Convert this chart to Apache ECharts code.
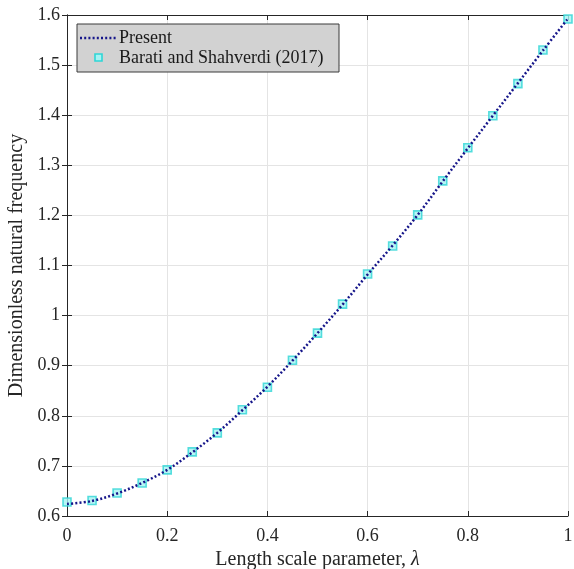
<!DOCTYPE html>
<html>
<head>
<meta charset="utf-8">
<script src="https://cdn.jsdelivr.net/npm/echarts@6/dist/echarts.min.js"></script>
<style>
  html, body { margin: 0; padding: 0; background: #fff; }
  #chart { width: 574px; height: 569px; }
</style>
</head>
<body>
<div id="chart"></div>
<script>
// Length scale parameter values
const lambdaValues = [0, 0.05, 0.1, 0.15, 0.2, 0.25, 0.3, 0.35, 0.4, 0.45, 0.5,
                      0.55, 0.6, 0.65, 0.7, 0.75, 0.8, 0.85, 0.9, 0.95, 1.0];
// Present solution (dimensionless natural frequency)
const presentValues = [0.624, 0.630, 0.645, 0.666, 0.692, 0.727, 0.766, 0.811, 0.858, 0.910, 0.965,
                       1.022, 1.082, 1.140, 1.201, 1.268, 1.334, 1.399, 1.464, 1.529, 1.593];
// Barati and Shahverdi (2017)
const baratiValues = [0.628, 0.631, 0.646, 0.666, 0.692, 0.728, 0.766, 0.812, 0.857, 0.911, 0.965,
                      1.023, 1.083, 1.139, 1.201, 1.269, 1.335, 1.399, 1.463, 1.530, 1.592];

const seriesNames = ['Present', 'Barati and Shahverdi (2017)'];

const serif = '"Liberation Serif", "Times New Roman", serif';
const ink = '#262626';
const lineColor = '#16168a';
const markerFill = '#a6f3f3';
const markerEdge = '#2fd6d6';

const chart = echarts.init(document.getElementById('chart'));
const pair = (xs, ys) => xs.map((x, i) => [x, ys[i]]);
const fmt = v => String(+v.toFixed(1));

const boxAxis = {
  axisLabel: { show: false },
  splitLine: { show: false },
  axisLine: { show: true, lineStyle: { color: ink, width: 1 } },
  axisTick: { show: true, inside: true, length: 5, lineStyle: { color: ink } }
};

// legend drawn as a framed box in the upper-left corner of the plot
const LX = 77, LY = 24, LW = 262, LH = 48;
const legendGraphics = [
  { type: 'rect', shape: { x: LX, y: LY, width: LW, height: LH },
    style: { fill: '#d2d2d2', stroke: '#3a3a3a', lineWidth: 1 }, z: 10 },
  { type: 'line', shape: { x1: LX + 3, y1: LY + 14, x2: LX + 40, y2: LY + 14 },
    style: { stroke: lineColor, lineWidth: 2.5, lineDash: [2, 2.2] }, z: 11 },
  { type: 'text', x: LX + 42, y: LY + 14,
    style: { text: seriesNames[0], font: '18px ' + serif, fill: '#1a1a1a', textVerticalAlign: 'middle', verticalAlign: 'middle' }, z: 11 },
  { type: 'rect', shape: { x: LX + 18, y: LY + 30, width: 7, height: 7 },
    style: { fill: markerFill, stroke: markerEdge, lineWidth: 1.6 }, z: 11 },
  { type: 'text', x: LX + 42, y: LY + 34,
    style: { text: seriesNames[1], font: '18px ' + serif, fill: '#1a1a1a', textVerticalAlign: 'middle', verticalAlign: 'middle' }, z: 11 }
];

chart.setOption({
  backgroundColor: '#ffffff',
  animation: false,
  grid: { left: 67, right: 6, top: 15, bottom: 53, containLabel: false, outerBoundsMode: 'none' },
  xAxis: [{
    type: 'value', min: 0, max: 1, interval: 0.2,
    name: '{n|Length scale parameter, }{l|λ}',
    nameLocation: 'middle', nameGap: 25,
    nameTextStyle: {
      rich: {
        n: { fontFamily: serif, fontSize: 20, color: ink },
        l: { fontFamily: serif, fontSize: 20, fontStyle: 'italic', color: ink }
      }
    },
    axisLine: { show: true, lineStyle: { color: ink, width: 1 } },
    axisTick: { show: true, inside: true, length: 5, lineStyle: { color: ink } },
    axisLabel: { fontFamily: serif, fontSize: 18, color: ink, margin: 11, formatter: fmt },
    splitLine: { show: true, lineStyle: { color: '#e4e4e4', width: 1 } }
  }, Object.assign({ type: 'value', min: 0, max: 1, interval: 0.2, position: 'top' }, boxAxis)],
  yAxis: [{
    type: 'value', min: 0.6, max: 1.6, interval: 0.1,
    name: 'Dimensionless natural frequency',
    nameLocation: 'middle', nameGap: 37,
    nameTextStyle: { fontFamily: serif, fontSize: 20, color: ink },
    axisLine: { show: true, lineStyle: { color: ink, width: 1 } },
    axisTick: { show: true, inside: true, length: 5, lineStyle: { color: ink } },
    axisLabel: { fontFamily: serif, fontSize: 18, color: ink, margin: 7, formatter: fmt },
    splitLine: { show: true, lineStyle: { color: '#e4e4e4', width: 1 } }
  }, Object.assign({ type: 'value', min: 0.6, max: 1.6, interval: 0.1, position: 'right' }, boxAxis)],
  graphic: legendGraphics,
  series: [{
    name: seriesNames[1],
    type: 'scatter',
    data: pair(lambdaValues, baratiValues),
    symbol: 'rect', symbolSize: 8,
    itemStyle: { color: markerFill, borderColor: markerEdge, borderWidth: 1.6 },
    z: 2
  }, {
    name: seriesNames[0],
    type: 'line',
    data: pair(lambdaValues, presentValues),
    smooth: 0.35,
    showSymbol: false,
    lineStyle: { color: lineColor, width: 2.5, type: [2, 2.2] },
    itemStyle: { color: lineColor },
    z: 3
  }]
});
</script>
</body>
</html>
